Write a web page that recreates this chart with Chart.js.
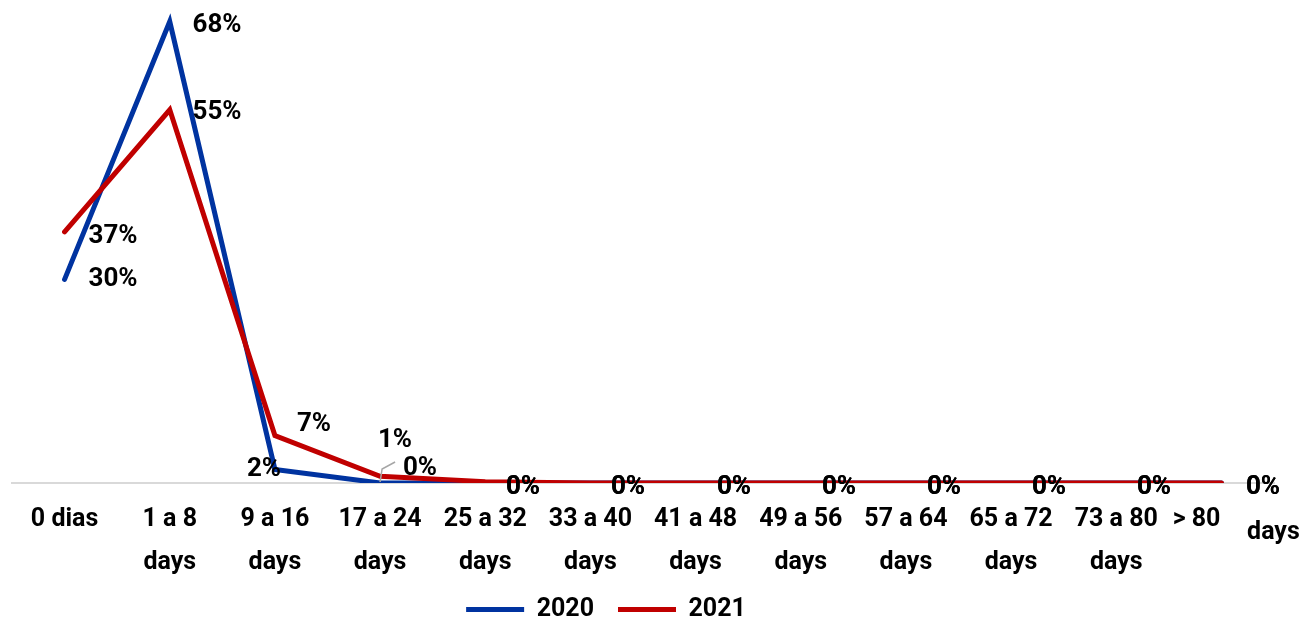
<!DOCTYPE html>
<html>
<head>
<meta charset="utf-8">
<script src="https://cdn.jsdelivr.net/npm/chart.js@4.4.1/dist/chart.umd.min.js"></script>
<style>
  html, body { margin: 0; padding: 0; background: #ffffff; }
  #wrap { width: 1307px; height: 618px; }
</style>
</head>
<body>
<div id="wrap"><canvas id="c" width="1307" height="618"></canvas></div>
<script>
// Share of cases by number of days, per year (%)
const categories = [
  ['0 dias'], ['1 a 8', 'days'], ['9 a 16', 'days'], ['17 a 24', 'days'],
  ['25 a 32', 'days'], ['33 a 40', 'days'], ['41 a 48', 'days'], ['49 a 56', 'days'],
  ['57 a 64', 'days'], ['65 a 72', 'days'], ['73 a 80', 'days'], ['> 80', 'days']
];
const seriesNames = ['2020', '2021'];
const values2020 = [30, 68, 2, 0, 0, 0, 0, 0, 0, 0, 0, 0];
const values2021 = [37, 55, 7, 1, 0.2, 0, 0, 0, 0, 0, 0, 0];
const labels2020 = ['30%', '68%', '2%', '0%', '0%', '0%', '0%', '0%', '0%', '0%', '0%', '0%'];
const labels2021 = ['37%', '55%', '7%', '1%', '0%', '0%', '0%', '0%', '0%', '0%', '0%', '0%'];

// label placement relative to each point [dx, dy]
const labelOffsets2020 = [[48, 0], [47, 3], [-11, 0], [40, -15], [38, 4], [38, 4], [38, 4], [38, 4], [38, 4], [38, 4], [38, 4], [42, 4]];
const labelOffsets2021 = [[48, 4], [47, 2], [39, -12], [15, -36], [38, 5.4], [38, 4], [38, 4], [38, 4], [38, 4], [38, 4], [38, 4], [42, 4]];

const FONT = 'Roboto, "Liberation Sans", sans-serif';
const BLUE = '#0033A0';
const RED = '#C00000';

const valueLabels = {
  id: 'valueLabels',
  afterDatasetsDraw(chart) {
    const ctx = chart.ctx;
    const sets = [[labels2020, labelOffsets2020], [labels2021, labelOffsets2021]];
    ctx.save();
    ctx.font = 'bold 26px ' + FONT;
    ctx.fillStyle = '#000000';
    ctx.textAlign = 'center';
    ctx.textBaseline = 'middle';
    sets.forEach(([texts, offs], di) => {
      const meta = chart.getDatasetMeta(di);
      meta.data.forEach((pt, i) => {
        ctx.fillText(texts[i], Math.round(pt.x + offs[i][0]), Math.round(pt.y + offs[i][1]));
      });
    });
    // leader line for the 2020 label at "17 a 24"
    const p = chart.getDatasetMeta(0).data[3];
    ctx.strokeStyle = '#a6a6a6';
    ctx.lineWidth = 1.5;
    ctx.beginPath();
    ctx.moveTo(p.x, p.y - 1);
    ctx.lineTo(p.x + 2, p.y - 14);
    ctx.lineTo(p.x + 15, p.y - 21);
    ctx.stroke();
    ctx.restore();
  }
};

// second word of the last category sits to the right of the first
const lastTickWord = {
  id: 'lastTickWord',
  afterDraw(chart) {
    const x = chart.scales.x;
    const ctx = chart.ctx;
    ctx.save();
    ctx.font = 'bold 25px ' + FONT;
    ctx.fillStyle = '#000000';
    ctx.textAlign = 'center';
    ctx.textBaseline = 'middle';
    ctx.fillText(categories[11][1], x.getPixelForValue(11) + 52, chart.chartArea.bottom + 50);
    ctx.restore();
  }
};

// legend sits lower and slightly left of centre
const shiftLegend = {
  id: 'shiftLegend',
  afterLayout(chart) {
    const lg = chart.legend;
    if (lg) { lg.left -= 37; lg.right -= 37; lg.top -= 26; lg.bottom -= 26; }
  }
};

new Chart(document.getElementById('c'), {
  type: 'line',
  data: {
    labels: categories,
    datasets: [
      { label: seriesNames[0], data: values2020, borderColor: BLUE, backgroundColor: BLUE,
        borderWidth: 5, pointRadius: 0, tension: 0, borderCapStyle: 'round', borderJoinStyle: 'miter', order: 1 },
      { label: seriesNames[1], data: values2021, borderColor: RED, backgroundColor: RED,
        borderWidth: 5, pointRadius: 0, tension: 0, borderCapStyle: 'round', borderJoinStyle: 'miter', order: 0 }
    ]
  },
  options: {
    responsive: false,
    animation: false,
    events: [],
    layout: { padding: { top: 8, left: 12, right: 33, bottom: -40 } },
    scales: {
      x: {
        offset: true,
        grid: { display: false, drawTicks: false },
        border: { display: true, color: '#d9d9d9', width: 2 },
        ticks: {
          autoSkip: false, maxRotation: 0, color: '#000000', padding: 15,
          font: { family: FONT, size: 25, weight: 'bold', lineHeight: 1.72 },
          callback: function (v, i) {
            return i === 11 ? [categories[11][0] + '        '] : categories[i];
          }
        }
      },
      y: { display: false, min: 0, max: 70 }
    },
    plugins: {
      legend: {
        position: 'bottom',
        labels: {
          color: '#000000', boxWidth: 58, boxHeight: 5, padding: 24,
          font: { family: FONT, size: 25, weight: 'bold' },
          generateLabels: function (chart) {
            return chart.data.datasets.map((d, i) => ({
              text: d.label, fillStyle: d.borderColor, strokeStyle: d.borderColor,
              lineWidth: 0, hidden: false, datasetIndex: i, fontColor: '#000000'
            }));
          }
        }
      },
      tooltip: { enabled: false }
    }
  },
  plugins: [valueLabels, lastTickWord, shiftLegend]
});
</script>
</body>
</html>
